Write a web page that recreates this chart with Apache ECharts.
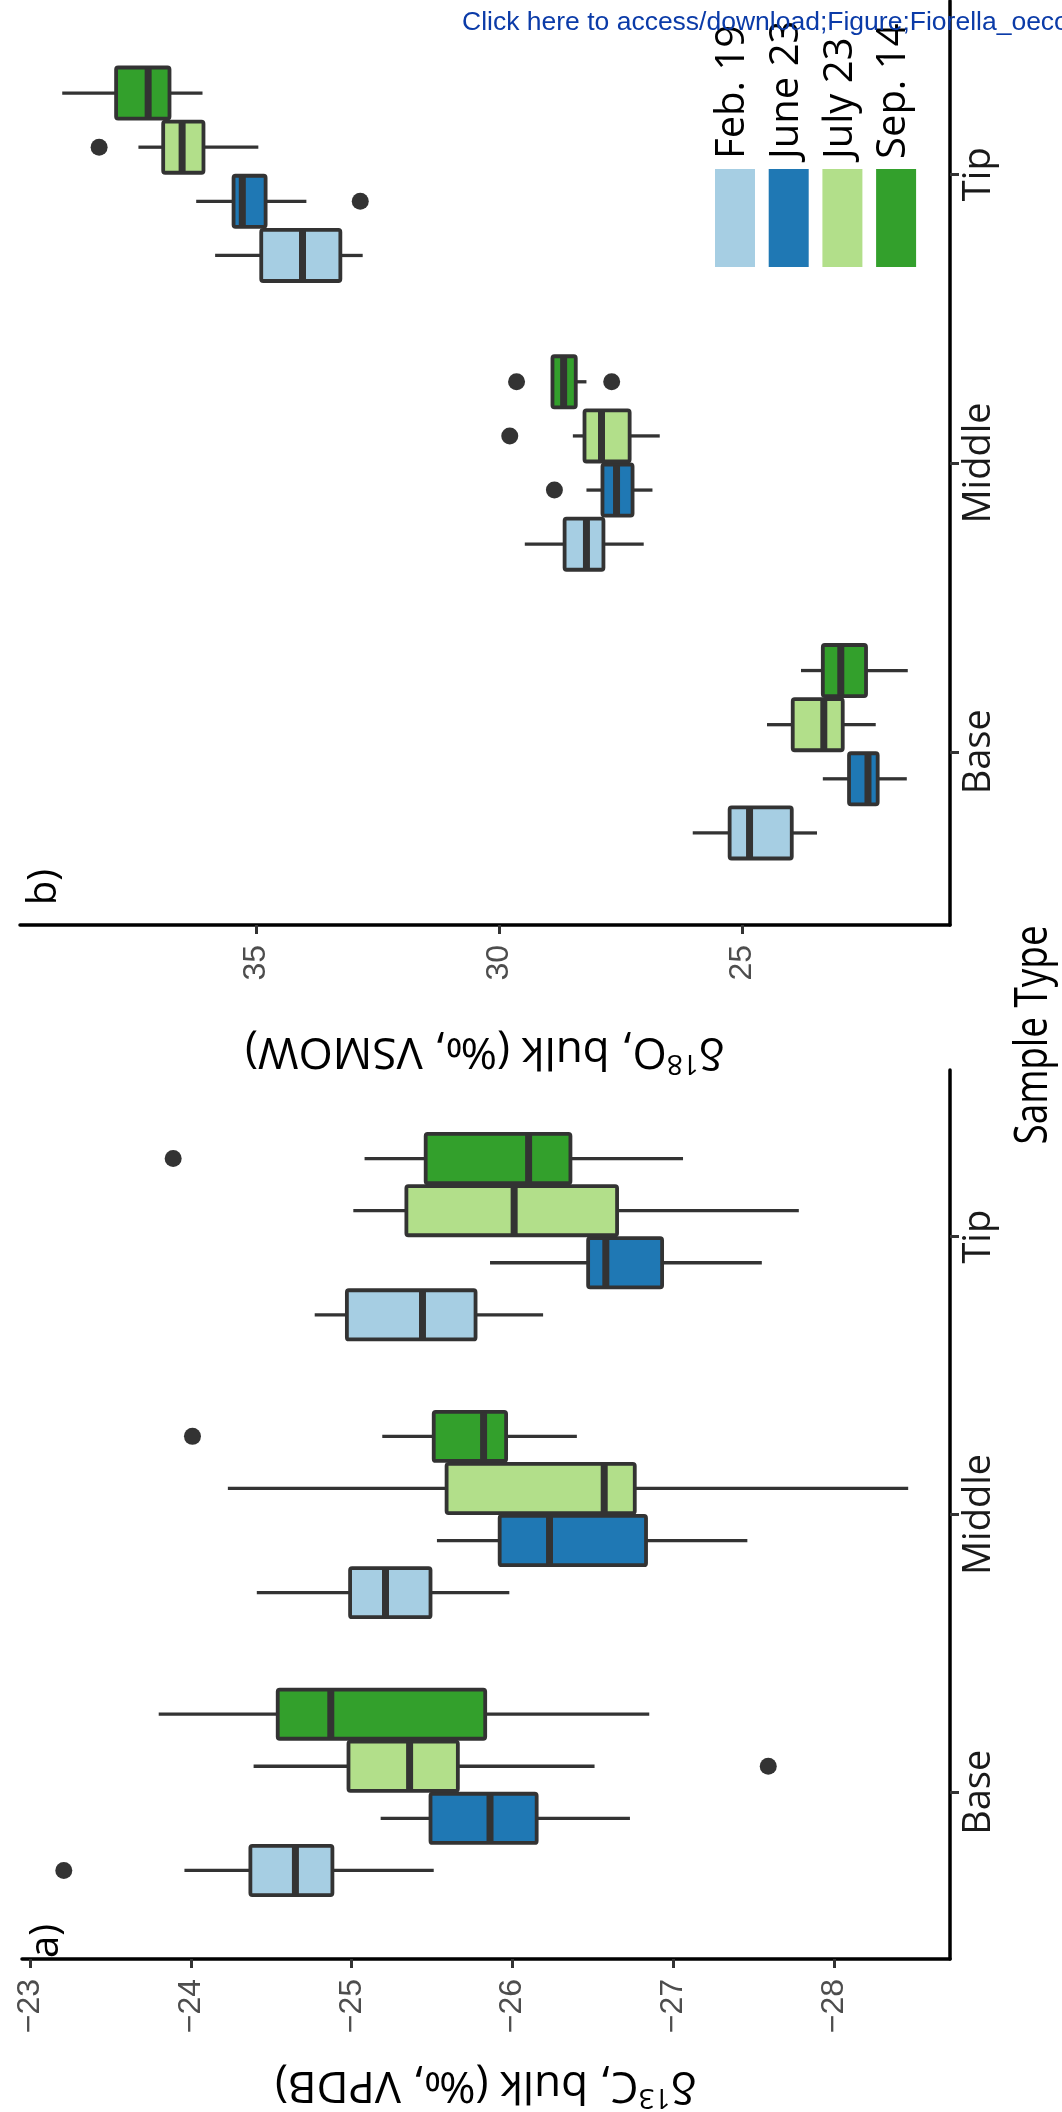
<!DOCTYPE html>
<html>
<head>
<meta charset="utf-8">
<script src="https://cdn.jsdelivr.net/npm/echarts@6/dist/echarts.min.js"></script>
<style>
  html, body { margin: 0; padding: 0; background: #fff; }
  #chart { width: 1062px; height: 2112px; }
</style>
</head>
<body>
<div id="chart"></div>
<script>
// categories along the (rotated) sample axis, bottom to top
const categories = ['Base', 'Middle', 'Tip']
const seasons = ['Feb. 19', 'June 23', 'July 23', 'Sep. 14']
const seasonColors = ['#a6cee3', '#1f78b4', '#b2df8a', '#33a02c']

// box stats [min, q1, median, q3, max] for Base, Middle, Tip
const c13Feb = [[-25.51, -24.88, -24.65, -24.37, -23.96], [-25.98, -25.49, -25.21, -24.99, -24.41], [-26.19, -25.77, -25.44, -24.97, -24.77]]
const c13Jun = [[-26.73, -26.15, -25.86, -25.49, -25.18], [-27.46, -26.83, -26.23, -25.92, -25.53], [-27.55, -26.93, -26.58, -26.47, -25.86]]
const c13Jul = [[-26.51, -25.66, -25.36, -24.98, -24.39], [-28.46, -26.76, -26.57, -25.59, -24.23], [-27.78, -26.65, -26.01, -25.34, -25.01]]
const c13Sep = [[-26.85, -25.83, -24.87, -24.54, -23.80], [-26.40, -25.96, -25.82, -25.51, -25.19], [-27.06, -26.36, -26.10, -25.46, -25.08]]
// outliers [season index, category index, value]
const c13Outliers = [[0, 0, -23.21], [2, 0, -27.59], [3, 1, -24.01], [3, 2, -23.89]]

const o18Feb = [[23.45, 23.97, 24.84, 25.25, 26.01], [27.02, 27.85, 28.20, 28.65, 29.47], [32.81, 33.27, 34.05, 34.90, 35.85]]
const o18Jun = [[21.60, 22.20, 22.40, 22.79, 23.33], [26.84, 27.25, 27.58, 27.87, 28.20], [33.97, 34.81, 35.29, 35.47, 36.24]]
const o18Jul = [[22.24, 22.92, 23.31, 23.95, 24.48], [26.69, 27.31, 27.89, 28.24, 28.48], [34.96, 36.09, 36.53, 36.92, 37.43]]
const o18Sep = [[21.58, 22.44, 22.96, 23.33, 23.78], [28.20, 28.42, 28.67, 28.90, 28.92], [36.11, 36.79, 37.23, 37.89, 39.00]]
const o18Outliers = [[1, 1, 28.86], [1, 2, 32.86], [2, 1, 29.78], [2, 2, 38.24], [3, 1, 29.64], [3, 1, 27.68]]

const c13Ticks = [-23, -24, -25, -26, -27, -28]
const o18Ticks = [25, 30, 35]

const c13Stats = [c13Feb, c13Jun, c13Jul, c13Sep]
const o18Stats = [o18Feb, o18Jun, o18Jul, o18Sep]

// dodge offsets (in category units) and box thickness
const dodge = [-0.28125, -0.09375, 0.09375, 0.28125]
const boxHeight = 0.177
const ink = '#333333'
const labelFont = 'Open Sans'

function boxRender(offset) {
  return function (params, api) {
    const y = api.value(0) + offset
    const lo = api.coord([api.value(1), y])
    const q1 = api.coord([api.value(2), y])
    const md = api.coord([api.value(3), y])
    const q3 = api.coord([api.value(4), y])
    const hi = api.coord([api.value(5), y])
    const h = api.size([0, boxHeight])[1]
    const color = api.visual('color')
    const lineStyle = { stroke: ink, lineWidth: 3.3 }
    return {
      type: 'group',
      children: [
        { type: 'line', shape: { x1: lo[0], y1: lo[1], x2: q1[0], y2: q1[1] }, style: lineStyle },
        { type: 'line', shape: { x1: q3[0], y1: q3[1], x2: hi[0], y2: hi[1] }, style: lineStyle },
        {
          type: 'rect',
          shape: { x: Math.min(q1[0], q3[0]), y: q1[1] - h / 2, width: Math.abs(q3[0] - q1[0]), height: h, r: 2 },
          style: { fill: color, stroke: ink, lineWidth: 3.8 }
        },
        { type: 'line', shape: { x1: md[0], y1: md[1] - h / 2 + 1, x2: md[0], y2: md[1] + h / 2 - 1 }, style: { stroke: ink, lineWidth: 7 } }
      ]
    }
  }
}

function panelSeries(stats, outliers, axisIndex) {
  const list = []
  stats.forEach((perCat, s) => {
    list.push({
      name: seasons[s],
      type: 'custom',
      xAxisIndex: axisIndex,
      yAxisIndex: axisIndex,
      itemStyle: { color: seasonColors[s] },
      renderItem: boxRender(dodge[s]),
      encode: { x: [1, 2, 3, 4, 5], y: 0 },
      data: perCat.map((d, c) => [c + 1].concat(d)),
      silent: true,
      z: 2
    })
  })
  list.push({
    type: 'scatter',
    xAxisIndex: axisIndex,
    yAxisIndex: axisIndex,
    symbolSize: 17,
    itemStyle: { color: ink, opacity: 1 },
    data: outliers.map(o => [o[2], o[1] + 1 + dodge[o[0]]]),
    silent: true,
    z: 3
  })
  return list
}

function valueAxis(gridIndex, min, max, ticks, name) {
  return {
    type: 'value',
    gridIndex: gridIndex,
    min: min,
    max: max,
    inverse: true,
    position: 'bottom',
    splitLine: { show: false },
    axisLine: { show: true, onZero: false, lineStyle: { color: '#000', width: 3.5 } },
    axisTick: { show: true, customValues: ticks, length: 9, lineStyle: { color: ink, width: 3 } },
    axisLabel: {
      customValues: ticks,
      rotate: 90,
      margin: 20,
      color: '#4d4d4d',
      fontFamily: 'Liberation Sans',
      fontSize: 32,
      formatter: v => String(v).replace('-', '\u2212')
    },
    name: name,
    nameLocation: 'middle',
    nameRotate: 180,
    nameGap: 100,
    nameTextStyle: {
      color: '#000',
      fontFamily: labelFont,
      rich: {
        n: { fontSize: 44, fontFamily: labelFont, color: '#000', lineHeight: 52 },
        s: { fontSize: 28, fontFamily: labelFont, color: '#000', lineHeight: 30, verticalAlign: 'top' }
      }
    }
  }
}

function sampleAxis(gridIndex) {
  return {
    type: 'value',
    gridIndex: gridIndex,
    min: 0.4,
    max: 3.6,
    position: 'right',
    splitLine: { show: false },
    axisLine: { show: true, onZero: false, lineStyle: { color: '#000', width: 3.5 } },
    axisTick: { show: true, customValues: [1, 2, 3], length: 9, lineStyle: { color: ink, width: 3 } },
    axisLabel: {
      customValues: [1, 2, 3],
      rotate: 90,
      margin: 10,
      color: '#1a1a1a',
      fontFamily: labelFont,
      fontSize: 38,
      formatter: v => categories[Math.round(v) - 1]
    }
  }
}

const legendGraphics = []
seasons.forEach((s, i) => {
  const x = 715 + i * 53.7
  legendGraphics.push({
    type: 'rect',
    shape: { x: x, y: 169, width: 40, height: 98 },
    style: { fill: seasonColors[i] }
  })
  legendGraphics.push({
    type: 'text',
    x: x + 18,
    y: 159,
    rotation: Math.PI / 2,
    style: { text: s, fontFamily: labelFont, fontSize: 40, fill: '#000', align: 'left', verticalAlign: 'middle' }
  })
})

const chart = echarts.init(document.getElementById('chart'), null, { renderer: 'canvas' })
chart.setOption({
  animation: false,
  backgroundColor: '#fff',
  grid: [
    { left: 20, top: 1, width: 930, height: 924 },
    { left: 22, top: 1070, width: 928, height: 904 }
  ],
  xAxis: [
    valueAxis(0, 20.71, 39.87, o18Ticks, '{n|δ}{s|18}{n|O, bulk (‰, VSMOW)}'),
    valueAxis(1, -28.72, -22.95, c13Ticks, '{n|δ}{s|13}{n|C, bulk (‰, VPDB)}')
  ],
  yAxis: [sampleAxis(0), sampleAxis(1)],
  series: panelSeries(o18Stats, o18Outliers, 0).concat(panelSeries(c13Stats, c13Outliers, 1)),
  graphic: legendGraphics.concat([
    {
      type: 'text', x: 1034, y: 1035, rotation: Math.PI / 2, scaleX: 0.82,
      style: { text: 'Sample Type', fontFamily: labelFont, fontSize: 45, fill: '#000', align: 'center', verticalAlign: 'middle' }
    },
    {
      type: 'text', x: 45, y: 887, rotation: Math.PI / 2,
      style: { text: 'b)', fontFamily: labelFont, fontSize: 40, fill: '#000', align: 'center', verticalAlign: 'middle' }
    },
    {
      type: 'text', x: 47, y: 1941, rotation: Math.PI / 2,
      style: { text: 'a)', fontFamily: labelFont, fontSize: 40, fill: '#000', align: 'center', verticalAlign: 'middle' }
    },
    {
      type: 'text', x: 462, y: 9, z: 100,
      style: { text: 'Click here to access/download;Figure;Fiorella_oecologia', fontFamily: 'Liberation Sans', fontSize: 26.5, fill: '#0b3ba8', align: 'left', verticalAlign: 'top' }
    }
  ])
})
</script>
</body>
</html>
